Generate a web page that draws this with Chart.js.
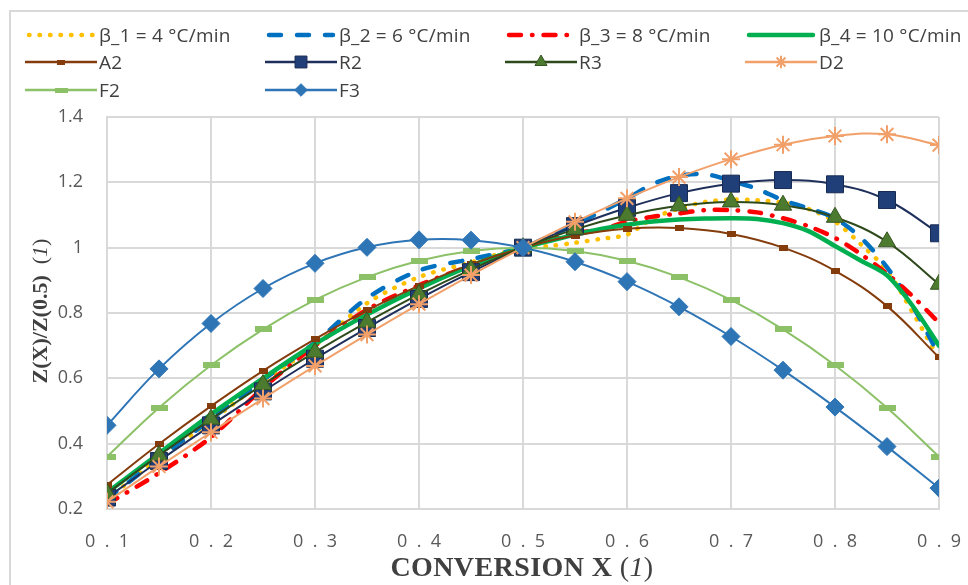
<!DOCTYPE html>
<html>
<head>
<meta charset="utf-8">
<script src="https://cdn.jsdelivr.net/npm/chart.js@4.4.0/dist/chart.umd.min.js"></script>
<style>
html, body { margin: 0; padding: 0; background: #fff; }
#wrap { position: relative; width: 968px; height: 585px; overflow: hidden; }
#frame { position: absolute; left: 9px; top: 10px; width: 1000px; height: 620px; border: 2px solid #d9d9d9; box-sizing: border-box; }
#chart { position: absolute; left: 0; top: 0; }
#legend { position: absolute; left: 25px; top: 21px; display: grid; grid-template-columns: repeat(4, 240px); grid-auto-rows: 27.5px; font-family: "Open Sans", sans-serif; font-size: 19px; letter-spacing: 0.2px; color: #404040; }
.item { display: flex; align-items: center; white-space: nowrap; }
.item canvas { margin-right: 2px; flex-shrink: 0; }
#ytitle { position: absolute; left: -110px; top: 295px; width: 300px; text-align: center; transform: rotate(-90deg); font-family: "Liberation Serif", serif; font-size: 22px; color: #404040; line-height: 32px; }
#xtitle { position: absolute; left: 222px; top: 551px; width: 600px; text-align: center; font-family: "Liberation Serif", serif; font-size: 28px; letter-spacing: 0.4px; color: #404040; line-height: 32px; }
.b { font-weight: bold; }
</style>
</head>
<body>
<div id="wrap">
  <div id="frame"></div>
  <canvas id="chart" width="968" height="585"></canvas>
  <div id="legend"></div>
  <div id="ytitle"><span class="b">Z(X)/Z(0.5)</span>&nbsp;&nbsp;(<i>1</i>)</div>
  <div id="xtitle"><span class="b">CONVERSION X</span> (<i>1</i>)</div>
</div>
<script>
// model curves, read at every 0.05
const modelX = [0.1, 0.15, 0.2, 0.25, 0.3, 0.35, 0.4, 0.45, 0.5, 0.55, 0.6, 0.65, 0.7, 0.75, 0.8, 0.85, 0.9];
const a2 = [0.274, 0.399, 0.515, 0.623, 0.720, 0.808, 0.884, 0.949, 1.0, 1.037, 1.058, 1.060, 1.042, 1.0, 0.929, 0.821, 0.664];
const r2 = [0.235, 0.347, 0.456, 0.560, 0.660, 0.754, 0.843, 0.925, 1.0, 1.066, 1.122, 1.167, 1.196, 1.207, 1.194, 1.146, 1.044];
const r3 = [0.248, 0.364, 0.475, 0.581, 0.680, 0.772, 0.857, 0.933, 1.0, 1.056, 1.099, 1.128, 1.140, 1.130, 1.093, 1.018, 0.888];
const d2 = [0.222, 0.330, 0.435, 0.538, 0.638, 0.734, 0.827, 0.916, 1.0, 1.079, 1.151, 1.216, 1.271, 1.315, 1.342, 1.347, 1.314];
const f2 = [0.36, 0.51, 0.64, 0.75, 0.84, 0.91, 0.96, 0.99, 1.0, 0.99, 0.96, 0.91, 0.84, 0.75, 0.64, 0.51, 0.36];
const f3 = [0.456, 0.629, 0.768, 0.875, 0.952, 1.001, 1.024, 1.023, 1.0, 0.957, 0.896, 0.819, 0.728, 0.625, 0.512, 0.391, 0.264];

// experimental curves (heating rates)
const expX = [0.1, 0.15, 0.2, 0.25, 0.3, 0.35, 0.4, 0.45, 0.5, 0.525, 0.55, 0.575, 0.6, 0.625, 0.65, 0.675, 0.7, 0.725, 0.75, 0.775, 0.8, 0.825, 0.85, 0.875, 0.9];
const beta1 = [0.23, 0.355, 0.47, 0.59, 0.70, 0.83, 0.91, 0.955, 1.0, 1.005, 1.015, 1.027, 1.04, 1.09, 1.12, 1.14, 1.147, 1.145, 1.138, 1.118, 1.08, 1.01, 0.93, 0.80, 0.66];
const beta2 = [0.23, 0.355, 0.475, 0.595, 0.71, 0.845, 0.93, 0.965, 1.0, 1.035, 1.07, 1.11, 1.15, 1.195, 1.22, 1.225, 1.205, 1.18, 1.145, 1.12, 1.09, 1.03, 0.94, 0.82, 0.67];
const beta3 = [0.215, 0.31, 0.42, 0.57, 0.70, 0.81, 0.885, 0.945, 1.0, 1.025, 1.045, 1.055, 1.08, 1.095, 1.105, 1.115, 1.115, 1.108, 1.09, 1.065, 1.03, 0.98, 0.92, 0.85, 0.77];
const beta4 = [0.25, 0.37, 0.49, 0.60, 0.705, 0.795, 0.875, 0.945, 1.0, 1.02, 1.04, 1.057, 1.07, 1.08, 1.086, 1.089, 1.09, 1.088, 1.075, 1.05, 1.005, 0.96, 0.915, 0.82, 0.70];

const pts = (xs, ys) => xs.map((x, i) => ({x: x, y: ys[i]}));

function blockImg(w, h, fill) {
	const c = document.createElement('canvas');
	c.width = w;
	c.height = h;
	const g = c.getContext('2d');
	g.fillStyle = fill;
	g.fillRect(0, 0, w, h);
	return c;
}

const series = [
	{label: 'β_1 = 4 °C/min', x: expX, y: beta1, color: '#FFC000', width: 4.5, dash: [0.5, 10], cap: 'round'},
	{label: 'β_2 = 6 °C/min', x: expX, y: beta2, color: '#0070C0', width: 4.5, dash: [12, 16], cap: 'round'},
	{label: 'β_3 = 8 °C/min', x: expX, y: beta3, color: '#FF0000', width: 4.5, dash: [12, 11, 0.5, 11], cap: 'round'},
	{label: 'β_4 = 10 °C/min', x: expX, y: beta4, color: '#00B050', width: 4.5, dash: [], cap: 'round'},
	{label: 'A2', x: modelX, y: a2, color: '#843C0C', width: 2, point: blockImg(9, 6, '#843C0C'), smallPoint: blockImg(8, 5, '#843C0C')},
	{label: 'R2', x: modelX, y: r2, color: '#1F2F5C', width: 2, point: 'rect', radius: 12, fill: '#203F78', pborder: '#172B52'},
	{label: 'R3', x: modelX, y: r3, color: '#2E4A1C', width: 2, point: 'triangle', radius: 10, fill: '#4C7A2E', pborder: '#375623'},
	{label: 'D2', x: modelX, y: d2, color: '#F2A06A', width: 2, point: 'star', radius: 9, fill: '#F2A06A', pborder: '#F2A06A'},
	{label: 'F2', x: modelX, y: f2, color: '#8CC168', width: 2, point: blockImg(17, 6, '#8CC168'), smallPoint: blockImg(13, 5, '#8CC168')},
	{label: 'F3', x: modelX, y: f3, color: '#2E75B6', width: 2, point: 'rectRot', radius: 9, fill: '#2E75B6', pborder: '#2E75B6'}
];

const datasets = series.map((s, i) => ({
	label: s.label,
	data: pts(s.x, s.y),
	borderColor: s.color,
	backgroundColor: s.color,
	borderWidth: s.width,
	borderDash: s.dash || [],
	borderCapStyle: s.cap || 'butt',
	tension: s.point ? 0.4 : 0.3,
	showLine: true,
	fill: false,
	pointStyle: s.point || false,
	pointRadius: s.point ? (s.radius || 5) : 0,
	pointBackgroundColor: s.fill || s.color,
	pointBorderColor: s.pborder || s.color,
	pointBorderWidth: s.point === 'star' ? 2 : 1,
	order: series.length - i
}));

// legend with line samples drawn in small canvases
const legend = document.getElementById('legend');
series.forEach(s => {
	const item = document.createElement('div');
	item.className = 'item';
	const c = document.createElement('canvas');
	c.width = 72;
	c.height = 22;
	const g = c.getContext('2d');
	g.strokeStyle = s.color;
	g.lineWidth = s.point ? 2.5 : s.width;
	g.lineCap = s.cap || 'butt';
	g.setLineDash(s.dash || []);
	g.beginPath();
	g.moveTo(s.point ? 0 : 4, 11);
	g.lineTo(s.point ? 72 : 68, 11);
	g.stroke();
	g.setLineDash([]);
	if (s.point) {
		g.fillStyle = s.fill || s.color;
		g.strokeStyle = s.pborder || s.color;
		g.lineWidth = s.point === 'star' ? 2 : 1;
		const style = s.smallPoint || s.point;
		Chart.helpers.drawPoint(g, {pointStyle: style, radius: (s.radius || 5) * 0.7, rotation: 0, borderWidth: g.lineWidth}, 36, 11);
	}
	const t = document.createElement('span');
	t.textContent = s.label;
	item.appendChild(c);
	item.appendChild(t);
	legend.appendChild(item);
});

const tickFont = {family: '"Open Sans", sans-serif', size: 18};

new Chart(document.getElementById('chart'), {
	type: 'scatter',
	data: {datasets: datasets},
	options: {
		responsive: false,
		animation: false,
		layout: {padding: {top: 117, right: 29, left: 0, bottom: 0}},
		plugins: {legend: {display: false}, tooltip: {enabled: false}},
		scales: {
			x: {
				type: 'linear',
				min: 0.1,
				max: 0.9,
				ticks: {
					stepSize: 0.1,
					color: '#595959',
					font: tickFont,
					padding: 22,
					maxRotation: 0,
					callback: v => {
						const s = (Math.round(v * 10) / 10).toFixed(1);
						return s.split('').join('  ');
					}
				},
				grid: {color: '#d9d9d9', lineWidth: 2, drawTicks: false},
				border: {color: '#d9d9d9', width: 2},
				afterFit: scale => {
					scale.height = 76;
					scale.paddingLeft = 0;
					scale.paddingRight = 0;
				}
			},
			y: {
				min: 0.2,
				max: 1.4,
				ticks: {
					stepSize: 0.2,
					color: '#595959',
					font: tickFont,
					padding: 24,
					callback: v => String(Math.round(v * 10) / 10)
				},
				grid: {color: '#d9d9d9', lineWidth: 2, drawTicks: false},
				border: {color: '#d9d9d9', width: 2},
				afterFit: scale => {
					scale.width = 107;
					scale.paddingTop = 0;
					scale.paddingBottom = 0;
				}
			}
		}
	}
});
</script>
</body>
</html>
